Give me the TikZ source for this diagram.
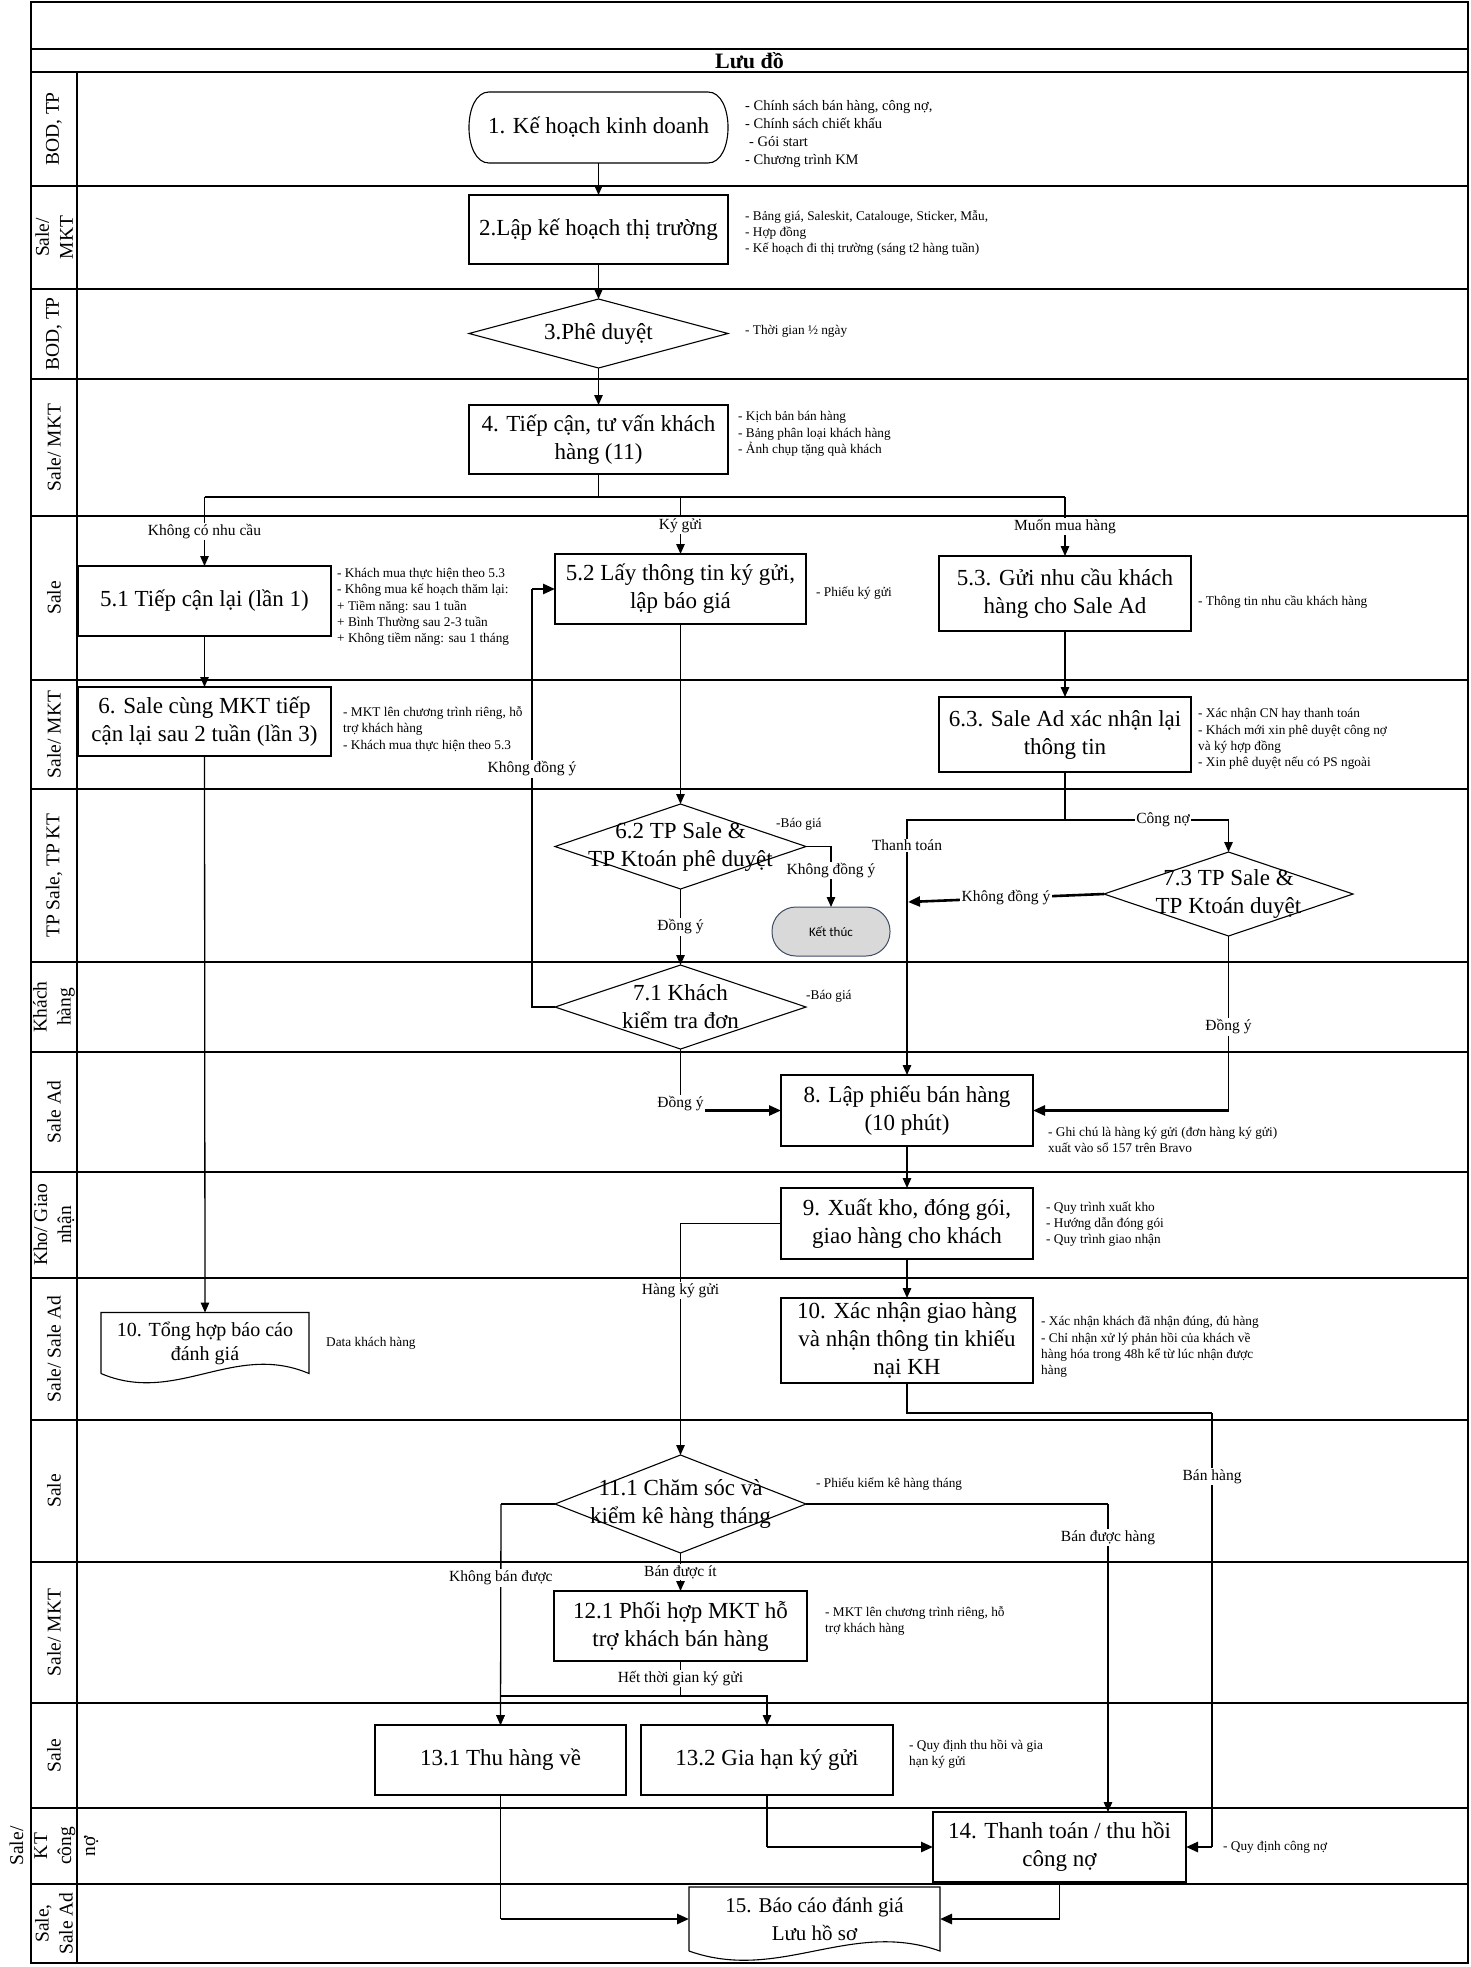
\documentclass[tikz,border=0pt]{standalone}
\usepackage{fontspec}
\setmainfont{Liberation Serif}
\newfontfamily\calibfont{Carlito}
\usetikzlibrary{arrows.meta,shapes.geometric,calc}
\definecolor{kgray}{HTML}{D9D9D9}
\definecolor{slate}{HTML}{3E4D63}

\begin{document}
\begin{tikzpicture}[x=1pt,y=-1pt,
  lane/.style={line width=1.5pt},
  lanelbl/.style={rotate=90, align=center, inner sep=0, font=\fontsize{19.5}{24}\selectfont},
  box/.style 2 args={draw, line width=1.1pt, fill=white, minimum width=#1, minimum height=#2,
    inner sep=0, outer sep=0, align=center, font=\fontsize{23}{28}\selectfont},
  dia/.style 2 args={draw, diamond, line width=1.1pt, fill=white, minimum width=#1,
    minimum height=#2, inner sep=0, outer sep=0},
  dtext/.style={inner sep=0, align=center, font=\fontsize{23}{28}\selectfont},
  note/.style={anchor=west, inner sep=0, align=left, font=\fontsize{13.3}{16.2}\selectfont},
  lbl/.style={fill=white, inner sep=1.5pt, font=\fontsize{15.5}{18}\selectfont},
  wire/.style={line width=1.3pt},
  wirebold/.style={line width=1.9pt},
  conn/.style={line width=1.3pt, -{Triangle[length=10pt,width=8.5pt]}},
  connthick/.style={line width=2.6pt, -{Triangle[length=12pt,width=10pt]}},
]
\useasboundingbox (0,0) rectangle (1470,1967);

% ---- frame and swimlanes ----
\draw[line width=2pt] (31,2) rectangle (1468,1963);
\draw[line width=2pt] (31,49) -- (1468,49);
\draw[lane] (31,72) -- (1468,72);
\foreach \y in {186,289,379,516,680,789,962,1052,1172,1278,1420,1562,1703,1808,1884}
  \draw[lane] (31,\y) -- (1468,\y);
\draw[lane] (77,72) -- (77,1963);

\node[font=\bfseries\fontsize{22}{24}\selectfont] (title) at (749.5,61) {Lưu đồ};

\node[lanelbl] (L1) at (54,129) {BOD, TP};
\node[lanelbl] (L2) at (54,237.5) {Sale/\\MKT};
\node[lanelbl] (L3) at (54,334) {BOD, TP};
\node[lanelbl] (L4) at (54,447.5) {Sale/ MKT};
\node[lanelbl] (L5) at (54,598) {Sale};
\node[lanelbl] (L6) at (54,734.5) {Sale/ MKT};
\node[lanelbl] (L7) at (54,875.5) {TP Sale, TP KT};
\node[lanelbl] (L8) at (54,1007) {Khách\\hàng};
\node[lanelbl] (L9) at (54,1112) {Sale Ad};
\node[lanelbl] (L10) at (54,1225) {Kho/ Giao\\nhận};
\node[lanelbl] (L11) at (54,1349) {Sale/ Sale Ad};
\node[lanelbl] (L12) at (54,1491) {Sale};
\node[lanelbl] (L13) at (54,1632.5) {Sale/ MKT};
\node[lanelbl] (L14) at (54,1755.5) {Sale};
\node[lanelbl] (L15) at (54,1846) {Sale/\\KT\\công\\nợ};
\node[lanelbl] (L16) at (54,1923.5) {Sale,\\Sale Ad};

% ---- process nodes ----
\node[box={259}{71}, draw=none, fill=none] (n1) at (598.5,127.5) {1. Kế hoạch kinh doanh};
\draw[line width=1.1pt] ($(n1.north west)+(20,0)$) -- ($(n1.north east)+(-20,0)$)
  .. controls ($(n1.north east)+(6.7,0)$) and ($(n1.south east)+(6.7,0)$) .. ($(n1.south east)+(-20,0)$)
  -- ($(n1.south west)+(20,0)$)
  .. controls ($(n1.south west)+(-6.7,0)$) and ($(n1.north west)+(-6.7,0)$) .. cycle;

\node[box={259}{69}] (n2) at (598.5,229.5) {2.Lập kế hoạch thị trường};
\node[dia={259}{69}] (n3) at (598.5,333.5) {};
\node[dtext] (n3t) at (n3) {3.Phê duyệt};
\node[box={259}{69}] (n4) at (598.5,439.5) {4. Tiếp cận, tư vấn khách\\hàng (11)};

\node[box={253}{70}] (n51) at (204.5,601) {5.1 Tiếp cận lại (lần 1)};
\node[box={251}{70}] (n52) at (680.5,589) {5.2 Lấy thông tin ký gửi,\\lập báo giá};
\node[box={252}{75}] (n53) at (1065,593.5) {5.3. Gửi nhu cầu khách\\hàng cho Sale Ad};

\node[box={253}{69}] (n6) at (204.5,721.5) {6. Sale cùng MKT tiếp\\cận lại sau 2 tuần (lần 3)};
\node[box={252}{75}] (n63) at (1065,734.5) {6.3. Sale Ad xác nhận lại\\thông tin};

\node[dia={251}{85}] (n62) at (680.5,846.5) {};
\node[dtext] (n62t) at (n62) {6.2 TP Sale \&\\TP Ktoán phê duyệt};
\node[draw=slate, fill=kgray, line width=1pt, rounded corners=24pt, minimum width=118,
  minimum height=49, inner sep=0, outer sep=0, font=\calibfont\fontsize{13}{15}\selectfont]
  (end) at (831,931.5) {Kết thúc};
\node[dia={249}{84}] (n73) at (1228.5,894) {};
\node[dtext] (n73t) at (n73) {7.3 TP Sale \&\\TP Ktoán duyệt};
\node[dia={251}{84}] (n71) at (680.5,1007) {};
\node[dtext] (n71t) at (n71) {7.1 Khách\\kiểm tra đơn};

\node[box={252}{71}] (n8) at (907,1110.5) {8. Lập phiếu bán hàng\\(10 phút)};
\node[box={252}{71}] (n9) at (907,1223.5) {9. Xuất kho, đóng gói,\\giao hàng cho khách};

\node[box={208}{61}, draw=none, fill=none, font=\fontsize{20}{24}\selectfont] (n10a) at (205,1343) {10. Tổng hợp báo cáo\\đánh giá};
\draw[line width=1.1pt] (n10a.south west) -- (n10a.north west) -- (n10a.north east) -- (n10a.south east)
  .. controls +(-75,-32) and +(75,32) .. (n10a.south west);
\node[box={252}{85}] (n10b) at (907,1340.5) {10. Xác nhận giao hàng\\và nhận thông tin khiếu\\nại KH};

\node[dia={251}{98}] (n111) at (680.5,1504) {};
\node[dtext] (n111t) at (n111) {11.1 Chăm sóc và\\kiểm kê hàng tháng};
\node[box={253}{70}] (n121) at (680.5,1626) {12.1 Phối hợp MKT hỗ\\trợ khách bán hàng};
\node[box={251}{70}] (n131) at (500.5,1760) {13.1 Thu hàng về};
\node[box={252}{70}] (n132) at (767,1760) {13.2 Gia hạn ký gửi};
\node[box={253}{70}] (n14) at (1059.5,1847) {14. Thanh toán / thu hồi\\công nợ};

\node[box={251}{64}, draw=none, fill=none, font=\fontsize{21}{28}\selectfont] (n15) at (814.5,1919) {15. Báo cáo đánh giá\\Lưu hồ sơ};
\draw[line width=1.1pt] (n15.south west) -- (n15.north west) -- (n15.north east) -- (n15.south east)
  .. controls +(-90,-32) and +(90,32) .. (n15.south west);

% ---- connectors ----
\draw[conn] (n1.south) -- (n2.north);
\draw[conn] (n2.south) -- (n3.north);
\draw[conn] (n3.south) -- (n4.north);
\coordinate (br) at (598.5,497);
\draw[wire] (n4.south) -- (br);
\draw[wirebold] (br -| n51.north) -- (br -| n53.north);
\draw[conn] (br -| n51.north) -- node[lbl]{Không có nhu cầu} (n51.north);
\draw[conn] (br -| n52.north) -- node[lbl]{Ký gửi} (n52.north);
\draw[conn] (br -| n53.north) -- node[lbl]{Muốn mua hàng} (n53.north);

\draw[conn] (n51.south) -- (n6.north);
\draw[conn] (n6.south) -- (n10a.north);
\draw[conn] (n52.south) -- (n62.north);
\draw[conn] (n53.south) -- (n63.north);
\draw[conn] (n62.east) -| node[lbl,pos=0.7]{Không đồng ý} (end.north);
\draw[conn] (n62.south) -- node[lbl]{Đồng ý} (n71.north);
\coordinate (lp) at (532,589);
\draw[wire] (n71.west) -| node[lbl,pos=0.785]{Không đồng ý} (lp);
\draw[connthick] (lp) -- (n52.west);

\coordinate (jn) at (1065,820);
\draw[wire] (n63.south) -- (jn);
\draw[conn] (jn) -| node[lbl,pos=0.3]{Công nợ} (n73.north);
\draw[conn] (jn) -| node[lbl,pos=0.55]{Thanh toán} (n8.north);
\coordinate (kd) at (908,902);
\draw[connthick] (n73.west) -- node[lbl]{Không đồng ý} (kd);
\draw[wire] (n73.south) -- node[lbl,pos=0.52]{Đồng ý} (n73.south |- n8.east);
\draw[connthick] (n73.south |- n8.east) -- (n8.east);
\draw[connthick] (n71.south |- n8.west) -- (n8.west);
\draw[wire] (n71.south) -- node[lbl,pos=0.89]{Đồng ý} (n71.south |- n8.west);

\draw[conn] (n8.south) -- (n9.north);
\draw[conn] (n9.west) -| node[lbl,pos=0.645]{Hàng ký gửi} (n111.north);
\draw[conn] (n9.south) -- (n10b.north);
\coordinate (bh) at (1212,1413);
\draw[wirebold] (n10b.south) |- (bh);
\draw[wire] (bh) -- node[lbl,pos=0.147]{Bán hàng} (bh |- n14.east);
\draw[connthick] (bh |- n14.east) -- (n14.east);

\coordinate (bdh) at (1108,1504);
\draw[wirebold] (n111.east) -- (bdh);
\draw[conn] (bdh) -- node[lbl,pos=0.11]{Bán được hàng} (bdh |- n14.north);
\coordinate (kb) at (501,1504);
\draw[wirebold] (n111.west) -- (kb);
\draw[conn] (kb) -- node[lbl,pos=0.335]{Không bán được} (n131.north);
\draw[conn] (n111.south) -- node[lbl]{Bán được ít} (n121.north);
\coordinate (sp) at (680.5,1696);
\draw[wire] (n121.south) -- node[lbl]{Hết thời gian ký gửi} (sp);
\draw[conn] (sp) -| (n131.north);
\draw[conn] (sp) -| (n132.north);
\draw[wire] (n132.south) -- (n132.south |- n14.west);
\draw[connthick] (n132.south |- n14.west) -- (n14.west);
\draw[wire] (n131.south) -- (n131.south |- n15.west);
\draw[connthick] (n131.south |- n15.west) -- (n15.west);
\draw[wire] (n14.south) -- (n14.south |- n15.east);
\draw[connthick] (n14.south |- n15.east) -- (n15.east);

% ---- side notes ----
\node[note, font=\fontsize{14.5}{18}\selectfont] (t1) at (745,134) {- Chính sách bán hàng, công nợ,\\- Chính sách chiết khấu\\\hspace*{4pt}- Gói start\\- Chương trình KM};
\node[note] (t2) at (745,233) {- Bảng giá, Saleskit, Catalouge, Sticker, Mẫu,\\- Hợp đồng\\- Kế hoạch đi thị trường (sáng t2 hàng tuần)};
\node[note] (t3) at (745,331) {- Thời gian ½ ngày};
\node[note] (t4) at (738,434) {- Kịch bản bán hàng\\- Bảng phân loại khách hàng\\- Ảnh chụp tặng quà khách};
\node[note] (t51) at (337,607) {- Khách mua thực hiện theo 5.3\\- Không mua kế hoạch thăm lại:\\+ Tiềm năng: sau 1 tuần\\+ Bình Thường sau 2-3 tuần\\+ Không tiềm năng: sau 1 tháng};
\node[note] (t52) at (816,593) {- Phiếu ký gửi};
\node[note] (t53) at (1198,602) {- Thông tin nhu cầu khách hàng};
\node[note] (t6) at (343,729) {- MKT lên chương trình riêng, hỗ\\trợ khách hàng\\- Khách mua thực hiện theo 5.3};
\node[note] (t63) at (1198,739) {- Xác nhận CN hay thanh toán\\- Khách mới xin phê duyệt công nợ\\và ký hợp đồng\\- Xin phê duyệt nếu có PS ngoài};
\node[note] (t62) at (776,824) {-Báo giá};
\node[note] (t71) at (806,996) {-Báo giá};
\node[note] (t8) at (1048,1140) {- Ghi chú là hàng ký gửi (đơn hàng ký gửi)\\xuất vào sổ 157 trên Bravo};
\node[note] (t9) at (1046,1224) {- Quy trình xuất kho\\- Hướng dẫn đóng gói\\- Quy trình giao nhận};
\node[note] (t10a) at (326,1343) {Data khách hàng};
\node[note] (t10b) at (1041,1347) {- Xác nhận khách đã nhận đúng, đủ hàng\\- Chỉ nhận xử lý phản hồi của khách về\\hàng hóa trong 48h kể từ lúc nhận được\\hàng};
\node[note] (t111) at (816,1484) {- Phiếu kiểm kê hàng tháng};
\node[note] (t121) at (825,1621) {- MKT lên chương trình riêng, hỗ\\trợ khách hàng};
\node[note] (t132) at (909,1754) {- Quy định thu hồi và gia\\hạn ký gửi};
\node[note] (t14) at (1223,1847) {- Quy định công nợ};
\end{tikzpicture}
\end{document}
